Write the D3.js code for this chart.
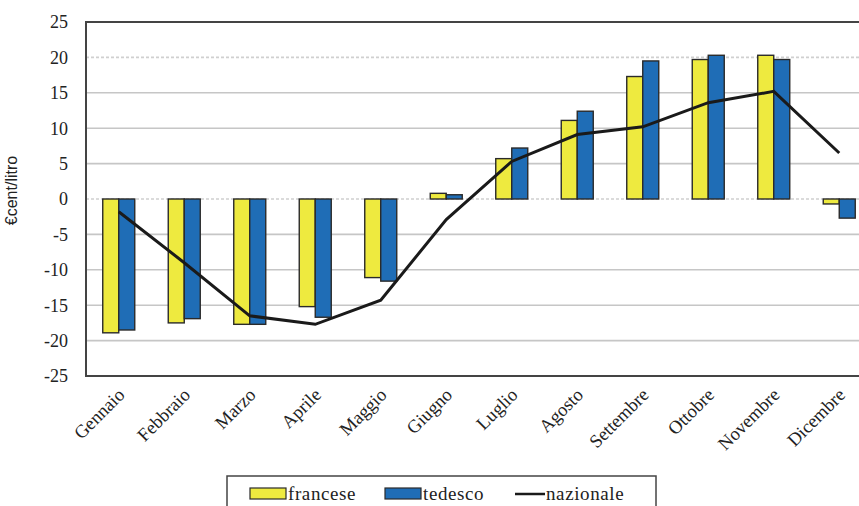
<html lang="it">
<head>
    <meta charset="UTF-8"/>
    <title>Differenziale prezzi</title>
    <script src="https://d3js.org/d3.v7.min.js"></script>
    <style>
        body { margin: 0; background: #fff; }
        text { font-family: "Liberation Serif", "Times New Roman", serif; fill: #222; }
    </style>
</head>
<body>
    <script>
        var mesi = ["Gennaio","Febbraio","Marzo","Aprile","Maggio","Giugno",
                    "Luglio","Agosto","Settembre","Ottobre","Novembre","Dicembre"];
        var francese  = [-18.9, -17.5, -17.7, -15.2, -11.1, 0.8, 5.7, 11.1, 17.3, 19.7, 20.3, -0.7];
        var tedesco   = [-18.5, -16.9, -17.7, -16.7, -11.6, 0.6, 7.2, 12.4, 19.5, 20.3, 19.7, -2.7];
        var nazionale = [-1.8, -9.0, -16.5, -17.7, -14.3, -2.9, 5.3, 9.1, 10.2, 13.6, 15.2, 6.5];
        var yTicks = [25, 20, 15, 10, 5, 0, -5, -10, -15, -20, -25];

        var w = 859;
        var h = 506;
        // note: "top" is taken by window.top, so use other names
        var pLeft = 86, pTop = 22, pRight = 872, pBottom = 376;

        var svg = d3.select("body")
                    .append("svg")
                    .attr("width", w)
                    .attr("height", h);

        var xScale = d3.scaleBand()
                        .domain(mesi)
                        .range([pLeft, pRight]);

        var yScale = d3.scaleLinear()
                        .domain([-25, 25])
                        .range([pBottom, pTop]);

        var barW = 16;

        // grid lines
        svg.selectAll("line.grid")
            .data(yTicks.filter(function(d){ return d != 25 && d != -25; }))
            .enter()
            .append("line")
            .attr("class", "grid")
            .attr("x1", pLeft)
            .attr("x2", pRight)
            .attr("y1", function(d){ return yScale(d); })
            .attr("y2", function(d){ return yScale(d); })
            .attr("stroke", function(d){ return (d == 20 || d == 0) ? "#d0d0d0" : "#c6c6c6"; })
            .attr("stroke-width", 1.6)
            .attr("stroke-dasharray", function(d){ return (d == 20 || d == 0) ? "3,2" : null; });

        // y tick labels
        svg.selectAll("text.ytick")
            .data(yTicks)
            .enter()
            .append("text")
            .attr("class", "ytick")
            .attr("x", 68)
            .attr("y", function(d){ return yScale(d); })
            .attr("dy", "0.35em")
            .attr("text-anchor", "end")
            .style("font-size", "18px")
            .text(function(d){ return d; });

        // y axis title
        svg.append("text")
            .attr("transform", "translate(17," + yScale(1.2) + ") rotate(-90)")
            .attr("text-anchor", "middle")
            .style("font-family", "'Liberation Sans', Arial, sans-serif")
            .style("font-size", "16px")
            .text("€cent/litro");

        // bars
        svg.selectAll("rect.fr")
            .data(francese)
            .enter()
            .append("rect")
            .attr("class", "fr")
            .attr("x", function(d, i){ return xScale(mesi[i]) + xScale.bandwidth() / 2 - barW; })
            .attr("y", function(d){ return yScale(Math.max(0, d)); })
            .attr("width", barW)
            .attr("height", function(d){ return Math.abs(yScale(d) - yScale(0)); })
            .attr("fill", "#eeea3f")
            .attr("stroke", "#2a2a2a")
            .attr("stroke-width", 1.4);

        svg.selectAll("rect.de")
            .data(tedesco)
            .enter()
            .append("rect")
            .attr("class", "de")
            .attr("x", function(d, i){ return xScale(mesi[i]) + xScale.bandwidth() / 2; })
            .attr("y", function(d){ return yScale(Math.max(0, d)); })
            .attr("width", barW)
            .attr("height", function(d){ return Math.abs(yScale(d) - yScale(0)); })
            .attr("fill", "#1f6db6")
            .attr("stroke", "#2a2a2a")
            .attr("stroke-width", 1.4);

        // line nazionale
        var line = d3.line()
                    .x(function(d, i){ return xScale(mesi[i]) + xScale.bandwidth() / 2; })
                    .y(function(d){ return yScale(d); });

        svg.append("path")
            .datum(nazionale)
            .attr("d", line)
            .attr("fill", "none")
            .attr("stroke", "#1a1a1a")
            .attr("stroke-width", 3);

        // plot border (left, top, bottom)
        svg.append("path")
            .attr("d", "M" + pRight + "," + pTop + "H" + pLeft + "V" + pBottom + "H" + pRight)
            .attr("fill", "none")
            .attr("stroke", "#444")
            .attr("stroke-width", 2);

        // month labels
        svg.selectAll("text.mese")
            .data(mesi)
            .enter()
            .append("text")
            .attr("class", "mese")
            .attr("text-anchor", "end")
            .attr("transform", function(d){
                return "translate(" + (xScale(d) + xScale.bandwidth() / 2 + 7) + ",396) rotate(-45)";
            })
            .style("font-size", "18.5px")
            .text(function(d){ return d; });

        // legend
        var leg = svg.append("g");
        leg.append("rect")
            .attr("x", 227).attr("y", 476)
            .attr("width", 429).attr("height", 40)
            .attr("fill", "#fff")
            .attr("stroke", "#444")
            .attr("stroke-width", 1.5);

        var items = [
            {name: "francese", x: 250, type: "rect", color: "#eeea3f"},
            {name: "tedesco", x: 385, type: "rect", color: "#1f6db6"},
            {name: "nazionale", x: 515, type: "line", color: "#1a1a1a"}
        ];

        items.forEach(function(it){
            if (it.type == "rect") {
                leg.append("rect")
                    .attr("x", it.x).attr("y", 488)
                    .attr("width", 36).attr("height", 11)
                    .attr("fill", it.color)
                    .attr("stroke", "#2a2a2a")
                    .attr("stroke-width", 1.2);
            } else {
                leg.append("line")
                    .attr("x1", it.x).attr("x2", it.x + 30)
                    .attr("y1", 494).attr("y2", 494)
                    .attr("stroke", it.color)
                    .attr("stroke-width", 2.5);
            }
            leg.append("text")
                .attr("x", it.x + (it.type == "rect" ? 38 : 31))
                .attr("y", 500)
                .style("font-size", "19px")
                .style("letter-spacing", "0.6px")
                .text(it.name);
        });
    </script>
</body>
</html>
